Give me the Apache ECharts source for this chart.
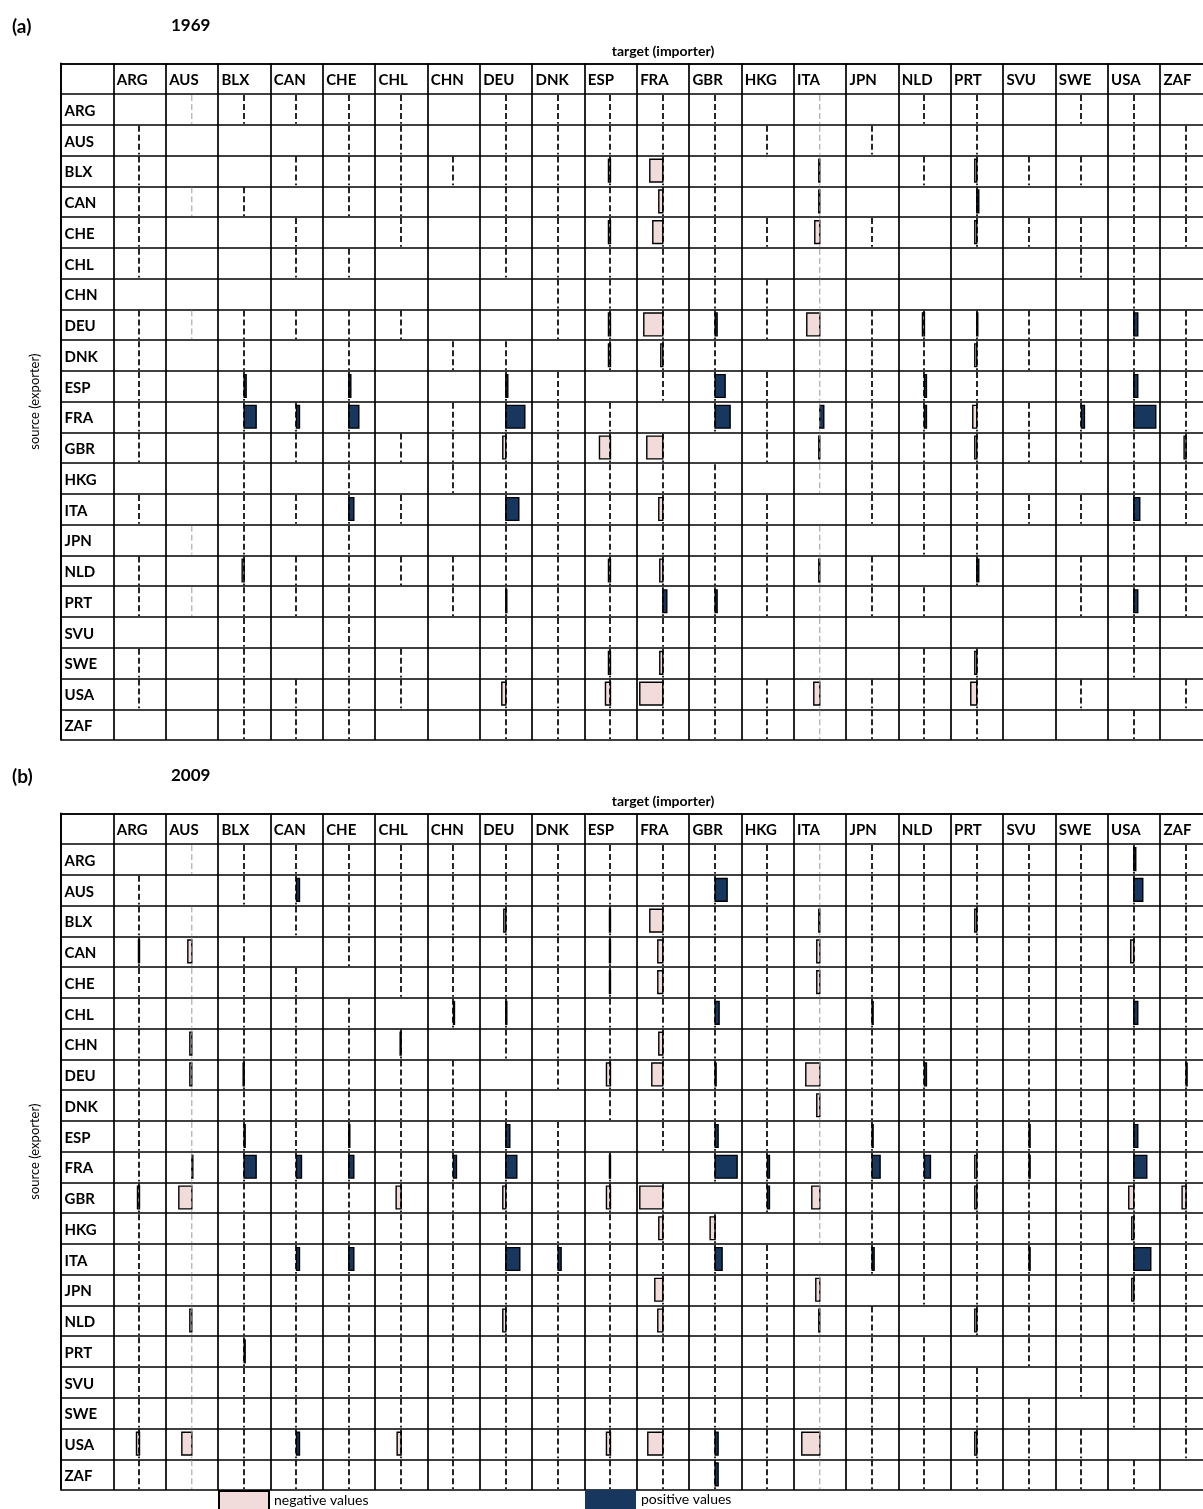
<!DOCTYPE html>
<html>
<head>
<meta charset="utf-8">
<script src="https://cdn.jsdelivr.net/npm/echarts@6/dist/echarts.min.js"></script>
<style>
    html, body { margin: 0; padding: 0; background: #fff; }
    #chart { width: 1203px; height: 1509px; }
</style>
</head>
<body>
<div id="chart"></div>
<script>
    // rows = source (exporter), columns = target (importer)
    let countries = ['ARG','AUS','BLX','CAN','CHE','CHL','CHN','DEU','DNK','ESP','FRA',
                     'GBR','HKG','ITA','JPN','NLD','PRT','SVU','SWE','USA','ZAF'];

    let panelTags = ['(a)', '(b)'];
    let years = ['1969', '2009'];

    // 1 = the pair has a (dashed) link, one string per source row, columns in countries order
    let links1969 = [
        '01111 10111 11010 11011 0', // ARG
        '10001 10111 11111 01001 1', // AUS
        '10011 11111 11010 11111 1', // BLX
        '11101 10111 11010 01001 1', // CAN
        '10010 10111 11111 01111 1', // CHE
        '10011 00111 11010 00011 0', // CHL
        '00000 00011 11110 00001 0', // CHN
        '11111 10011 11111 11111 1', // DEU
        '10101 01101 11011 11111 1', // DNK
        '10101 00110 11111 11011 1', // ESP
        '10111 01111 01111 11111 1', // FRA
        '10111 11111 10111 11111 1', // GBR
        '00101 01111 11011 11001 1', // HKG
        '10111 10111 11101 11111 1', // ITA
        '01101 00111 11110 11001 0', // JPN
        '10111 11111 11111 01011 1', // NLD
        '11111 01111 11111 10011 1', // PRT
        '00101 00111 11010 00001 0', // SVU
        '10101 10111 11010 11001 0', // SWE
        '10111 10111 11111 11010 1', // USA
        '00111 00111 11111 11001 0'  // ZAF
    ];

    let links2009 = [
        '01111 11111 11111 11111 1', // ARG
        '10111 11111 11111 11111 1', // AUS
        '11011 11111 11111 11111 1', // BLX
        '11101 11111 11111 11111 1', // CAN
        '11110 11111 11111 11111 1', // CHE
        '11111 01111 11111 11111 1', // CHL
        '11111 10111 11111 11111 1', // CHN
        '11111 11011 11111 11111 1', // DEU
        '11111 11101 11111 11111 1', // DNK
        '11111 11110 11111 11111 1', // ESP
        '11111 11111 01111 11111 1', // FRA
        '11111 11111 10111 11111 1', // GBR
        '11111 11111 11011 11111 1', // HKG
        '11111 11111 11101 11111 1', // ITA
        '11111 11111 11110 11111 1', // JPN
        '11111 11111 11111 01111 1', // NLD
        '11111 11111 11111 10111 1', // PRT
        '11111 11111 11111 11011 1', // SVU
        '11111 11111 11111 11101 1', // SWE
        '11111 11111 11111 11110 1', // USA
        '11111 11111 11111 11111 0'  // ZAF
    ];

    // [source, target, value]; negative = left of the link line, positive = right
    let bars1969 = [
        ['FRA','BLX',12], ['FRA','CAN',3], ['FRA','CHE',10], ['FRA','DEU',19], ['FRA','GBR',15],
        ['FRA','ITA',4], ['FRA','USA',22], ['FRA','SWE',3], ['FRA','PRT',-4], ['FRA','NLD',2],
        ['ITA','CHE',5], ['ITA','DEU',13], ['ITA','USA',6], ['ITA','FRA',-4],
        ['ESP','GBR',10], ['ESP','USA',4], ['ESP','BLX',2], ['ESP','CHE',2], ['ESP','DEU',2], ['ESP','NLD',2],
        ['GBR','DEU',-3], ['GBR','ESP',-11], ['GBR','FRA',-16], ['GBR','PRT',-2], ['GBR','ITA',-1], ['GBR','ZAF',-2],
        ['USA','DEU',-4], ['USA','ESP',-5], ['USA','FRA',-23], ['USA','ITA',-6], ['USA','PRT',-6],
        ['BLX','ESP',-2], ['BLX','FRA',-13], ['BLX','ITA',-1], ['BLX','PRT',-2],
        ['CAN','FRA',-4], ['CAN','ITA',-1], ['CAN','PRT',2],
        ['CHE','ESP',-2], ['CHE','FRA',-10], ['CHE','ITA',-5], ['CHE','PRT',-2],
        ['DEU','ESP',-2], ['DEU','FRA',-19], ['DEU','GBR',2], ['DEU','ITA',-13], ['DEU','NLD',-2],
        ['DEU','USA',4], ['DEU','PRT',1],
        ['DNK','ESP',-2], ['DNK','FRA',-2], ['DNK','PRT',-2],
        ['NLD','BLX',-2], ['NLD','ESP',-2], ['NLD','FRA',-3], ['NLD','ITA',-1], ['NLD','PRT',2],
        ['PRT','FRA',4], ['PRT','GBR',2], ['PRT','USA',4], ['PRT','DEU',1],
        ['SWE','ESP',-2], ['SWE','FRA',-3], ['SWE','PRT',-2]
    ];

    let bars2009 = [
        ['USA','ARG',-3], ['GBR','ARG',-2], ['CAN','ARG',-1],
        ['CAN','AUS',-4], ['CHN','AUS',-2], ['DEU','AUS',-2], ['NLD','AUS',-2], ['FRA','AUS',1],
        ['GBR','AUS',-13], ['USA','AUS',-10],
        ['FRA','BLX',12], ['DEU','BLX',-1], ['ESP','BLX',1], ['PRT','BLX',1],
        ['AUS','CAN',3], ['FRA','CAN',5], ['ITA','CAN',3], ['USA','CAN',3],
        ['FRA','CHE',5], ['ITA','CHE',5], ['ESP','CHE',1],
        ['GBR','CHL',-5], ['USA','CHL',-4], ['CHN','CHL',-1],
        ['FRA','CHN',3], ['CHL','CHN',1],
        ['ESP','DEU',4], ['FRA','DEU',11], ['ITA','DEU',14], ['BLX','DEU',-2], ['GBR','DEU',-3],
        ['NLD','DEU',-3], ['CHL','DEU',1],
        ['ITA','DNK',3],
        ['DEU','ESP',-4], ['GBR','ESP',-4], ['USA','ESP',-4], ['BLX','ESP',-1], ['CAN','ESP',-1],
        ['CHE','ESP',-1], ['FRA','ESP',-1],
        ['BLX','FRA',-13], ['CAN','FRA',-5], ['CHE','FRA',-5], ['CHN','FRA',-4], ['DEU','FRA',-11],
        ['GBR','FRA',-23], ['HKG','FRA',-4], ['JPN','FRA',-8], ['NLD','FRA',-5], ['USA','FRA',-15],
        ['AUS','GBR',12], ['CHL','GBR',4], ['ESP','GBR',3], ['FRA','GBR',22], ['HKG','GBR',-5],
        ['ITA','GBR',7], ['USA','GBR',3], ['ZAF','GBR',3], ['DEU','GBR',1],
        ['FRA','HKG',2], ['GBR','HKG',2],
        ['BLX','ITA',-1], ['CAN','ITA',-3], ['CHE','ITA',-3], ['DEU','ITA',-14], ['DNK','ITA',-3],
        ['GBR','ITA',-8], ['JPN','ITA',-4], ['NLD','ITA',-1], ['USA','ITA',-18],
        ['FRA','JPN',8], ['ITA','JPN',2], ['CHL','JPN',1], ['ESP','JPN',1],
        ['FRA','NLD',6], ['DEU','NLD',2],
        ['BLX','PRT',-2], ['FRA','PRT',-2], ['GBR','PRT',-2], ['NLD','PRT',-2], ['USA','PRT',-2],
        ['ESP','SVU',1], ['FRA','SVU',1], ['ITA','SVU',1],
        ['AUS','USA',9], ['CAN','USA',-3], ['CHL','USA',4], ['ESP','USA',4], ['FRA','USA',13],
        ['GBR','USA',-5], ['HKG','USA',-2], ['ITA','USA',17], ['JPN','USA',-2], ['ARG','USA',2],
        ['GBR','ZAF',-4], ['DEU','ZAF',1]
    ];

    let panelLinks = [links1969, links2009];
    let panelBars = [bars1969, bars2009];

    let myChart = echarts.init(document.getElementById('chart'));

    let FONT = 'Lato, "DejaVu Sans", sans-serif';
    let PINK = '#f2dcdb';
    let NAVY = '#17375e';
    let GRID_LEFT = 61;
    let COL_W = 52.33;     // px per column
    let ROW_H = 30.76;     // px per row
    let BAR_UNIT = COL_W;  // bar value units per column width
    let panelTop = [63.3, 813.3];
    // the table runs past the right edge of the page, only this much of it shows
    let X_MAX = (1203 - GRID_LEFT) / COL_W;

    function linkCells(rows) {
        let out = [];
        rows.forEach((s, r) => {
            s.replace(/ /g, '').split('').forEach((ch, c) => {
                if (ch === '1') out.push([c, r]);
            });
        });
        return out;
    }

    function barCells(list, sign) {
        return list.filter((b) => sign < 0 ? b[2] < 0 : b[2] > 0)
            .map((b) => [countries.indexOf(b[1]), countries.indexOf(b[0]), b[2]]);
    }

    function renderLink(params, api) {
        let col = api.value(0), row = api.value(1);
        let p0 = api.coord([col + 1.5, row + 1]);
        let p1 = api.coord([col + 1.5, row + 2]);
        let faint = (col === 1 || col === 13);   // these columns come out grey in the original
        let x = faint ? p0[0] : Math.round(p0[0]);
        return {
            type: 'line',
            shape: {x1: x, y1: p0[1] + 1, x2: x, y2: p1[1] - 1},
            style: {
                stroke: faint ? '#9a9a9a' : '#000',
                lineWidth: faint ? 1 : 1.7,
                lineDash: [6, 3]
            }
        };
    }

    function makeBarRenderer(fill) {
        return function (params, api) {
            let col = api.value(0), row = api.value(1), v = api.value(2);
            let p0 = api.coord([col + 1.5, row + 1.12]);
            let p1 = api.coord([col + 1.5 + v / BAR_UNIT, row + 1.86]);
            let x = Math.min(p0[0], p1[0]);
            let w = Math.max(Math.abs(p1[0] - p0[0]), 1);
            return {
                type: 'rect',
                shape: {x: x, y: Math.min(p0[1], p1[1]), width: w, height: Math.abs(p1[1] - p0[1])},
                style: {fill: fill, stroke: '#000', lineWidth: 1.4}
            };
        };
    }

    function renderLabel(params, api) {
        let p = api.coord([api.value(0), api.value(1) + 0.5]);
        return {
            type: 'text',
            x: p[0] + 3.5,
            y: p[1] + 1.5,
            style: {
                text: countries[api.value(2)],
                font: 'bold 15px ' + FONT,
                fill: '#000',
                textAlign: 'left',
                textVerticalAlign: 'middle',
                align: 'left',
                verticalAlign: 'middle'
            }
        };
    }

    let labelData = [];
    countries.forEach((c, i) => {
        labelData.push([i + 1, 0, i]);   // column header
        labelData.push([0, i + 1, i]);   // row header
    });

    let grids = [], xAxes = [], yAxes = [], series = [], titles = [];

    [0, 1].forEach((k) => {
        grids.push({left: GRID_LEFT, top: panelTop[k], right: 0, height: ROW_H * 22, containLabel: false});
        xAxes.push({
            gridIndex: k, type: 'value', min: 0, max: X_MAX, interval: 1, position: 'top',
            axisLine: {show: true, lineStyle: {color: '#000', width: 1.7}},
            axisTick: {show: false}, axisLabel: {show: false},
            splitLine: {show: true, showMaxLine: false, lineStyle: {color: '#000', width: 1.7}}
        });
        yAxes.push({
            gridIndex: k, type: 'value', min: 0, max: 22, interval: 1, inverse: true,
            name: 'source (exporter)', nameLocation: 'middle', nameRotate: 90, nameGap: 20,
            nameTextStyle: {fontFamily: FONT, fontSize: 13, color: '#000'},
            axisLine: {show: true, lineStyle: {color: '#000', width: 1.7}},
            axisTick: {show: false}, axisLabel: {show: false},
            splitLine: {show: true, lineStyle: {color: '#000', width: 1.7}}
        });

        series.push({
            type: 'custom', name: 'negative values', xAxisIndex: k, yAxisIndex: k, z: 2,
            itemStyle: {color: PINK, borderColor: '#000', borderWidth: 2},
            renderItem: makeBarRenderer(PINK), data: barCells(panelBars[k], -1)
        });
        series.push({
            type: 'custom', name: 'positive values', xAxisIndex: k, yAxisIndex: k, z: 2,
            itemStyle: {color: NAVY, borderColor: NAVY, borderWidth: 0},
            renderItem: makeBarRenderer(NAVY), data: barCells(panelBars[k], 1)
        });
        series.push({
            type: 'custom', name: 'links ' + years[k], xAxisIndex: k, yAxisIndex: k, z: 3,
            renderItem: renderLink, data: linkCells(panelLinks[k])
        });
        series.push({
            type: 'custom', name: 'labels ' + years[k], xAxisIndex: k, yAxisIndex: k, z: 4,
            renderItem: renderLabel, data: labelData
        });

        let off = panelTop[k] - panelTop[0];
        titles.push({text: panelTags[k], left: 12, top: 17 + off, padding: 0,
            textStyle: {fontFamily: FONT, fontSize: 19, fontWeight: 'bold', color: '#000', lineHeight: 19}});
        titles.push({text: years[k], left: 171, top: 17 + off, padding: 0,
            textStyle: {fontFamily: FONT, fontSize: 17, fontWeight: 'bold', color: '#000', lineHeight: 17}});
        titles.push({text: 'target (importer)', left: 663, top: 44 + off, padding: 0, textAlign: 'center',
            textStyle: {fontFamily: FONT, fontSize: 14, fontWeight: 'bold', color: '#000', lineHeight: 14}});
    });

    let option = {
        animation: false,
        backgroundColor: '#fff',
        title: titles,
        grid: grids,
        xAxis: xAxes,
        yAxis: yAxes,
        legend: [
            {data: ['negative values'], left: 218, top: 1490, padding: 0, icon: 'rect',
                itemWidth: 50, itemHeight: 19, itemGap: 6,
                itemStyle: {borderColor: '#000', borderWidth: 2},
                textStyle: {fontFamily: FONT, fontSize: 14, color: '#000'}},
            {data: ['positive values'], left: 585, top: 1490, padding: 0, icon: 'rect',
                itemWidth: 51, itemHeight: 19, itemGap: 6,
                textStyle: {fontFamily: FONT, fontSize: 14, color: '#000'}}
        ],
        series: series
    };

    myChart.setOption(option);
</script>
</body>
</html>
